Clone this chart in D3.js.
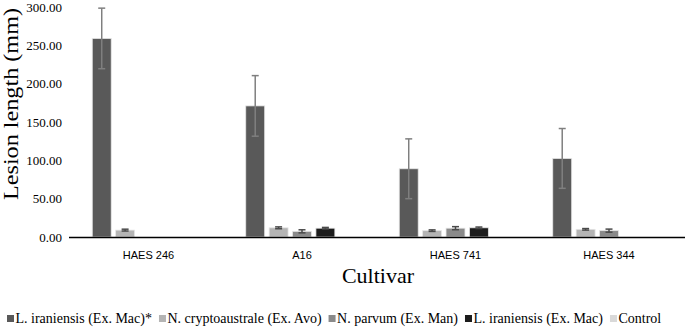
<html>
 <head>
  <title>Lesion length</title>
  <script src="https://d3js.org/d3.v7.min.js"></script>
  <style>
   body{margin:0;background:#fff;}
  </style>
 </head>
 <body>
  <svg></svg>
  <script>
   var svgWidth=685,svgHeight=328;

   var cultivars=["HAES 246","A16","HAES 741","HAES 344"];
   var series=["L. iraniensis (Ex. Mac)*","N. cryptoaustrale (Ex. Avo)","N. parvum (Ex. Man)","L. iraniensis (Ex. Mac)","Control"];
   // mean lesion length per cultivar, one array per isolate
   var iranStarVals=[259,171,89,102.5];
   var cryptoVals=[9,12,8.3,10];
   var parvumVals=[0,7.4,11.5,8.3];
   var iranMacVals=[0,11.5,12,0];
   var controlVals=[0,0,0,0];
   // standard errors
   var iranStarErr=[39.5,39.5,39,39];
   var cryptoErr=[1.2,1.2,1,1];
   var parvumErr=[0,2,2,2];
   var iranMacErr=[0,1,1,0];
   var controlErr=[0,0,0,0];
   var yTicks=[0,50,100,150,200,250,300];

   var values=[iranStarVals,cryptoVals,parvumVals,iranMacVals,controlVals];
   var errors=[iranStarErr,cryptoErr,parvumErr,iranMacErr,controlErr];
   var colors=["#595959","#b4b4b4","#8a8a8a","#1c1c1c","#d9d9d9"];

   var svg=d3.select("svg").attr("width",svgWidth).attr("height",svgHeight);

   var x0=d3.scaleBand().domain(cultivars).range([71.75,685.75]).padding(0);
   var x1=d3.scaleBand().domain(series).range([20.5,133]).paddingInner(0.19).paddingOuter(0);
   var y=d3.scaleLinear().domain([0,300]).range([237,7]);

   // y tick labels (no axis line)
   svg.append("g").selectAll("text").data(yTicks).enter().append("text")
      .attr("x",62).attr("y",function(d){return y(d)+4.5;})
      .attr("text-anchor","end")
      .style("font-family","'Liberation Serif','Times New Roman',serif").style("font-size","13px")
      .attr("fill","#000")
      .text(function(d){return d.toFixed(2);});

   var rows=[];
   cultivars.forEach(function(c,i){
     series.forEach(function(s,j){
       rows.push({cult:c,ser:s,v:values[j][i],e:errors[j][i],col:colors[j]});
     });
   });

   var g=svg.append("g");
   g.selectAll("rect").data(rows.filter(function(d){return d.v>0;})).enter().append("rect")
     .attr("x",function(d){return x0(d.cult)+x1(d.ser);})
     .attr("width",x1.bandwidth())
     .attr("y",function(d){return y(d.v);})
     .attr("height",function(d){return y(0)-y(d.v);})
     .attr("fill",function(d){return d.col;})
     .attr("stroke","#e6e6e6").attr("stroke-width",0.8);

   var eb=g.selectAll(".err").data(rows.filter(function(d){return d.v>0&&d.e>0;})).enter().append("g").attr("class","err")
     .attr("stroke",function(d){return d.v>50?"#7f7f7f":"#4a4a4a";}).attr("stroke-width",1.5);
   eb.append("line")
     .attr("x1",function(d){return x0(d.cult)+x1(d.ser)+x1.bandwidth()/2;})
     .attr("x2",function(d){return x0(d.cult)+x1(d.ser)+x1.bandwidth()/2;})
     .attr("y1",function(d){return y(d.v+d.e);})
     .attr("y2",function(d){return y(d.v-d.e);});
   eb.append("line")
     .attr("x1",function(d){return x0(d.cult)+x1(d.ser)+x1.bandwidth()/2-3.5;})
     .attr("x2",function(d){return x0(d.cult)+x1(d.ser)+x1.bandwidth()/2+3.5;})
     .attr("y1",function(d){return y(d.v+d.e);})
     .attr("y2",function(d){return y(d.v+d.e);});
   eb.append("line")
     .attr("x1",function(d){return x0(d.cult)+x1(d.ser)+x1.bandwidth()/2-3.5;})
     .attr("x2",function(d){return x0(d.cult)+x1(d.ser)+x1.bandwidth()/2+3.5;})
     .attr("y1",function(d){return y(d.v-d.e);})
     .attr("y2",function(d){return y(d.v-d.e);});

   // x axis
   var xAxis=svg.append("g").attr("transform","translate(0,"+y(0)+")")
     .call(d3.axisBottom(x0).tickSize(0).tickPadding(14));
   xAxis.select(".domain").attr("d","M69,0.5H685").attr("stroke","#000").attr("stroke-width",1.5);
   xAxis.selectAll("text").style("font-family","'Liberation Sans',Arial,sans-serif").style("font-size","11px").attr("fill","#000");

   svg.append("text").attr("transform","translate(18,104) rotate(-90)")
      .attr("text-anchor","middle")
      .attr("textLength",192).attr("lengthAdjust","spacingAndGlyphs")
      .style("font-family","'Liberation Serif','Times New Roman',serif").style("font-size","21px")
      .text("Lesion length (mm)");

   svg.append("text").attr("x",378).attr("y",283)
      .attr("text-anchor","middle")
      .style("font-family","'Liberation Serif','Times New Roman',serif").style("font-size","22px")
      .text("Cultivar");

   // legend
   var lx=7;
   var legend=svg.append("g");
   series.forEach(function(s,j){
     legend.append("rect").attr("x",lx).attr("y",315).attr("width",7).attr("height",7).attr("fill",colors[j]);
     var t=legend.append("text").attr("x",lx+8.5).attr("y",323)
       .style("font-family","'Liberation Serif','Times New Roman',serif").style("font-size","14px")
       .text(s);
     lx+=8.5+t.node().getComputedTextLength()+7;
   });
  </script>
 </body>
</html>
